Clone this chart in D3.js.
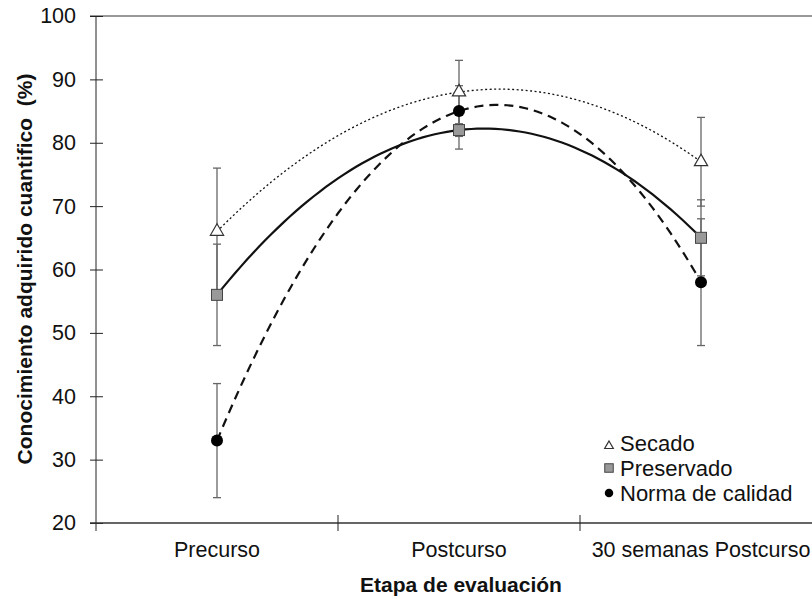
<!DOCTYPE html>
<html>
<head>
<meta charset="utf-8">
<script src="https://cdn.jsdelivr.net/npm/d3@7"></script>
<style>
  body { margin: 0; background: #fff; }
  svg { display: block; font-family: "Liberation Sans", Arial, sans-serif; }
</style>
</head>
<body>
<svg width="812" height="599"></svg>
<script>
// data
var categories = ['Precurso', 'Postcurso', '30 semanas Postcurso']
var secado = [66, 88, 77]
var secadoErr = [10, 5, 7]
var preservado = [56, 82, 65]
var preservadoErr = [8, 3, 6]
var norma = [33, 85, 58]
var normaErr = [9, 4, 10]
var yTicks = [20, 30, 40, 50, 60, 70, 80, 90, 100]

const svg = d3.select('svg')
const plotLeft = 96, plotRight = 822, plotTop = 16, plotBottom = 523

const xBand = d3.scaleBand().domain(categories).range([plotLeft, plotRight])
const xIdx = d3.scaleLinear().domain([0, categories.length - 1])
  .range([xBand(categories[0]) + xBand.bandwidth() / 2,
          xBand(categories[categories.length - 1]) + xBand.bandwidth() / 2])
const yScale = d3.scaleLinear().domain([20, 100]).range([plotBottom, plotTop])

// frame line on top
svg.append('line').attr('x1', 90).attr('x2', 812).attr('y1', plotTop).attr('y2', plotTop)
  .attr('stroke', '#333').attr('stroke-width', 1)

// y axis
const yAxis = svg.append('g').attr('transform', `translate(${plotLeft},0)`)
  .call(d3.axisLeft(yScale).tickValues(yTicks).tickSize(6).tickPadding(14))
yAxis.select('.domain').remove()
yAxis.selectAll('.tick line').attr('x1', -6).attr('x2', 7).attr('stroke', '#222')
yAxis.selectAll('.tick text').attr('font-size', 21.5).attr('fill', '#111')
  .attr('font-family', '"Liberation Sans", Arial, sans-serif')
svg.append('line').attr('x1', plotLeft).attr('x2', plotLeft)
  .attr('y1', plotTop).attr('y2', plotBottom + 8).attr('stroke', '#222')

// x axis
svg.append('line').attr('x1', 90).attr('x2', 812).attr('y1', plotBottom).attr('y2', plotBottom)
  .attr('stroke', '#333').attr('stroke-width', 1.3)
const bounds = categories.map(c => xBand(c)).concat([xBand.range()[1]])
svg.selectAll('.xtick').data(bounds.slice(1)).enter().append('line')
  .attr('x1', d => d).attr('x2', d => d).attr('y1', plotBottom - 8).attr('y2', plotBottom + 8)
  .attr('stroke', '#222')
svg.selectAll('.xlab').data(categories).enter().append('text')
  .attr('x', d => xBand(d) + xBand.bandwidth() / 2).attr('y', 557)
  .attr('text-anchor', 'middle').attr('font-size', 21.5).attr('fill', '#111')
  .text(d => d)

// axis titles
svg.append('text').attr('x', 461).attr('y', 592).attr('text-anchor', 'middle')
  .attr('font-size', 21).attr('font-weight', 'bold').attr('fill', '#111')
  .text('Etapa de evaluación')
svg.append('text').attr('transform', 'translate(32,269) rotate(-90)')
  .attr('text-anchor', 'middle').attr('font-size', 21).attr('font-weight', 'bold')
  .attr('fill', '#111').style('white-space', 'pre')
  .text('Conocimiento adquirido cuantifico  (%)')

// quadratic trendline through the three points of a series
function trend(vals) {
  const n = vals.length
  const pts = d3.range(0, n - 1 + 1e-9, (n - 1) / 80).map(function(t) {
    var v = 0
    for (var i = 0; i < n; i++) {
      var l = 1
      for (var j = 0; j < n; j++) if (j !== i) l *= (t - j) / (i - j)
      v += vals[i] * l
    }
    return [t, v]
  })
  return d3.line().x(d => xIdx(d[0])).y(d => yScale(d[1]))(pts)
}

const series = [
  { name: 'Secado', vals: secado, err: secadoErr, width: 1.3, dash: '2,2.5' },
  { name: 'Preservado', vals: preservado, err: preservadoErr, width: 2.2, dash: null },
  { name: 'Norma de calidad', vals: norma, err: normaErr, width: 2.2, dash: '9,6' }
]

// error bars
series.forEach(function(s) {
  const g = svg.append('g').attr('stroke', '#666').attr('stroke-width', 1.3)
  s.vals.forEach(function(v, i) {
    const x = xIdx(i)
    g.append('line').attr('x1', x).attr('x2', x)
      .attr('y1', yScale(v + s.err[i])).attr('y2', yScale(v - s.err[i]))
    ;[v + s.err[i], v - s.err[i]].forEach(function(e) {
      g.append('line').attr('x1', x - 4).attr('x2', x + 4)
        .attr('y1', yScale(e)).attr('y2', yScale(e))
    })
  })
})

// trend lines
series.forEach(function(s) {
  svg.append('path').attr('d', trend(s.vals)).attr('fill', 'none')
    .attr('stroke', '#111').attr('stroke-width', s.width)
    .attr('stroke-dasharray', s.dash)
})

// markers
function marker(sel, name, size) {
  if (name === 'Secado') {
    sel.append('path').attr('d', d3.symbol(d3.symbolTriangle, size * size * 0.45)())
      .attr('fill', '#fff').attr('stroke', '#333').attr('stroke-width', 1.2)
  } else if (name === 'Preservado') {
    sel.append('rect').attr('x', -size / 2).attr('y', -size / 2)
      .attr('width', size).attr('height', size)
      .attr('fill', '#999').attr('stroke', '#444').attr('stroke-width', 1)
  } else {
    sel.append('circle').attr('r', size / 2).attr('fill', '#000')
  }
}
series.forEach(function(s) {
  var size = s.name === 'Secado' ? 13 : (s.name === 'Norma de calidad' ? 12 : 11)
  s.vals.forEach(function(v, i) {
    const g = svg.append('g').attr('transform', `translate(${xIdx(i)},${yScale(v)})`)
    marker(g, s.name, size)
  })
})

// legend
series.forEach(function(s, i) {
  const y = 443 + i * 25
  const g = svg.append('g').attr('transform', `translate(609,${y + (i === 0 ? 3 : 0)})`)
  marker(g, s.name, s.name === 'Secado' ? 8.5 : 8.5)
  svg.append('text').attr('x', 620).attr('y', y + 7.5).attr('font-size', 22)
    .attr('fill', '#111').text(s.name)
})
</script>
</body>
</html>
